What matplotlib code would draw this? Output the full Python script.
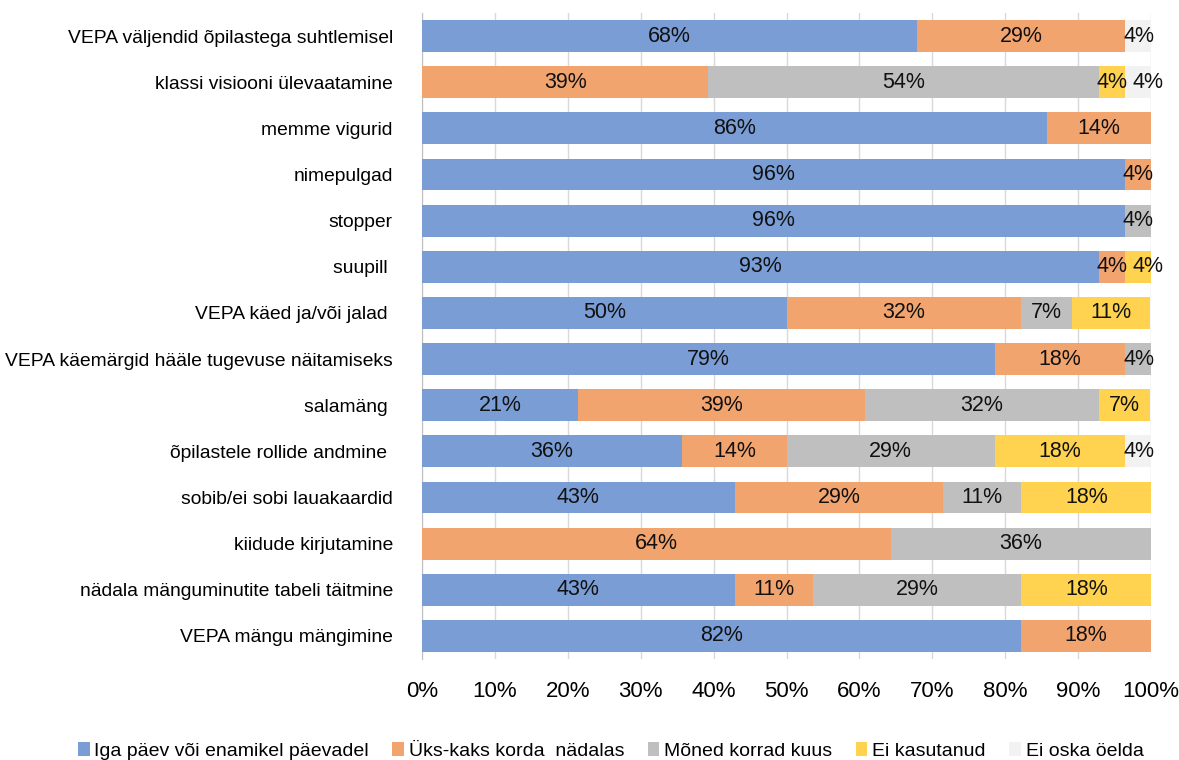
import numpy as np
import matplotlib.pyplot as plt

categories = [
    "VEPA väljendid õpilastega suhtlemisel",
    "klassi visiooni ülevaatamine",
    "memme vigurid",
    "nimepulgad",
    "stopper",
    "suupill ",
    "VEPA käed ja/või jalad ",
    "VEPA käemärgid hääle tugevuse näitamiseks",
    "salamäng ",
    "õpilastele rollide andmine ",
    "sobib/ei sobi lauakaardid",
    "kiidude kirjutamine",
    "nädala mänguminutite tabeli täitmine",
    "VEPA mängu mängimine",
]

series_names = [
    "Iga päev või enamikel päevadel",
    "Üks-kaks korda  nädalas",
    "Mõned korrad kuus",
    "Ei kasutanud",
    "Ei oska öelda",
]

# percentages per category (Iga päev, Üks-kaks, Mõned, Ei kasutanud, Ei oska)
iga_paev = [67.9, 0, 85.7, 96.4, 96.4, 92.9, 50.0, 78.6, 21.4, 35.7, 42.9, 0, 42.9, 82.1]
uks_kaks = [28.6, 39.3, 14.3, 3.6, 0, 3.6, 32.1, 17.9, 39.3, 14.3, 28.6, 64.3, 10.7, 17.9]
moned = [0, 53.6, 0, 0, 3.6, 0, 7.1, 3.6, 32.1, 28.6, 10.7, 35.7, 28.6, 0]
ei_kasutanud = [0, 3.6, 0, 0, 0, 3.6, 10.7, 0, 7.1, 17.9, 17.9, 0, 17.9, 0]
ei_oska = [3.6, 3.6, 0, 0, 0, 0, 0, 0, 0, 3.6, 0, 0, 0, 0]

colors = ["#7A9DD6", "#F2A46F", "#BFBFBF", "#FFD34F", "#F2F2F2"]

plt.rcParams['font.family'] = ['Liberation Sans', 'DejaVu Sans']

fig = plt.figure(figsize=(11.79, 7.6), dpi=100)
ax = fig.add_axes([422 / 1179, 1 - 659 / 760, 729 / 1179, 646 / 760])

data = np.array([iga_paev, uks_kaks, moned, ei_kasutanud, ei_oska])
y = np.arange(len(categories))
left = np.zeros(len(categories))
prev = np.zeros(len(categories))  # last non-zero segment in each row
for i, vals in enumerate(data):
    ax.barh(y, vals, left=left, height=0.69, color=colors[i], label=series_names[i], zorder=3)
    for j, v in enumerate(vals):
        if v <= 0:
            continue
        cx = left[j] + v / 2
        # small labels next to another small one get nudged right
        if v < 5 and 0 < prev[j] < 5:
            cx += 1.3
        ax.text(cx, y[j], f"{round(v):d}%", ha="center", va="center",
                fontsize=15.5, color="#111111", zorder=4)
        prev[j] = v
    left += vals

ax.set_xlim(0, 100)
ax.set_ylim(len(categories) - 0.5, -0.5)
ax.set_yticks(y)
ax.set_yticklabels(categories, fontsize=13.9)
ax.set_xticks(np.arange(0, 101, 10))
ax.set_xticklabels([f"{t}%" for t in range(0, 101, 10)], fontsize=16)
ax.tick_params(axis="y", length=0, pad=21)
ax.tick_params(axis="x", length=0, pad=16)
ax.xaxis.grid(True, color="#D9D9D9", linewidth=1, zorder=0)
for s in ["top", "right", "bottom"]:
    ax.spines[s].set_visible(False)
ax.spines["left"].set_color("#BFBFBF")

fig.legend(loc="center", bbox_to_anchor=(0.518, 1 - 751 / 760), ncol=5,
           frameon=False, handlelength=0.6, handleheight=0.7, handletextpad=0.25,
           columnspacing=1.2, prop={'size': 14})

fig.savefig("out.png", dpi=100)
